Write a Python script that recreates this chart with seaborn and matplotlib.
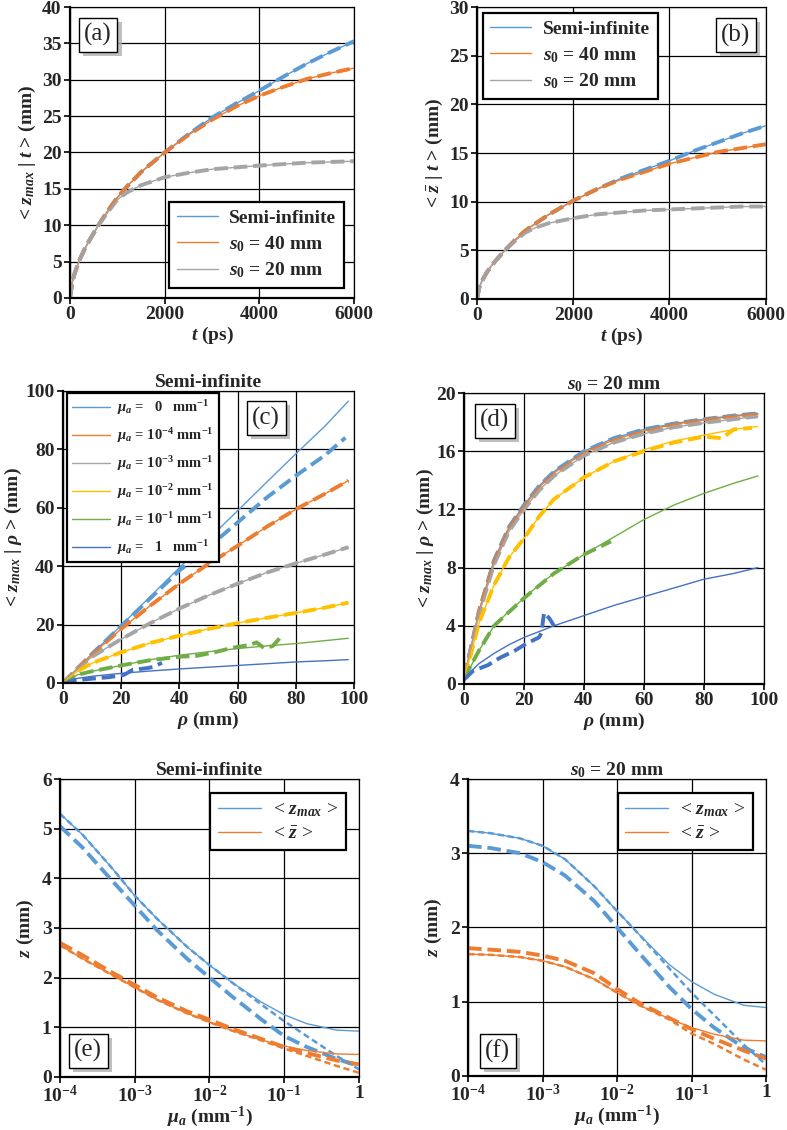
import matplotlib
matplotlib.use("Agg")
import matplotlib.pyplot as plt
import matplotlib.patheffects as pe
from matplotlib.ticker import FixedLocator, NullLocator
import seaborn as sns

# colours (Excel palette of the original figure)
C_BLUE = "#5B9BD5"
C_ORANGE = "#ED7D31"
C_GREY = "#A5A5A5"
C_YELLOW = "#FFC000"
C_GREEN = "#70AD47"
C_DBLUE = "#4472C4"

# ---- (a) / (b): depth vs time ----
t_ps = [0, 50, 100, 200, 300, 400, 600, 800, 1000, 1200, 1500, 2000, 2500,
        3000, 3500, 4000, 4500, 5000, 5500, 6000]
a_semi = [0, 2.2, 3.4, 5.2, 6.6, 7.8, 10.0, 12.0, 13.8, 15.3, 17.3, 20.0, 22.5,
          24.8, 26.7, 28.5, 30.4, 32.2, 33.8, 35.3]
a_s40 = [0, 2.2, 3.4, 5.2, 6.6, 7.8, 10.0, 12.0, 13.8, 15.3, 17.3, 20.0, 22.4,
         24.5, 26.3, 27.8, 29.0, 30.1, 30.9, 31.6]
a_s20 = [0, 2.2, 3.4, 5.2, 6.6, 7.8, 10.0, 11.8, 13.5, 14.5, 15.5, 16.6, 17.2,
         17.7, 17.95, 18.2, 18.4, 18.6, 18.7, 18.8]
b_semi = [0, 1.2, 1.8, 2.7, 3.4, 4.0, 5.1, 6.1, 7.0, 7.7, 8.7, 10.1, 11.3,
          12.4, 13.3, 14.2, 15.2, 16.1, 17.0, 17.8]
b_s40 = [0, 1.2, 1.8, 2.7, 3.4, 4.0, 5.1, 6.1, 7.0, 7.7, 8.7, 10.1, 11.3,
         12.3, 13.1, 13.9, 14.5, 15.1, 15.5, 15.9]
b_s20 = [0, 1.2, 1.8, 2.7, 3.4, 4.0, 5.1, 6.0, 6.8, 7.3, 7.8, 8.3, 8.7,
         8.9, 9.1, 9.2, 9.3, 9.4, 9.5, 9.5]

# ---- (c) semi-infinite, depth vs rho ----
rho_c = [0, 5, 10, 20, 30, 40, 50, 60, 70, 80, 90, 98]
c_mu0 = [0, 5.0, 10.0, 19.7, 29.6, 39.5, 49.3, 59.0, 68.8, 78.5, 88.0, 96.5]
c_m4 = [0, 5.0, 9.8, 18.5, 26.5, 34.0, 40.8, 47.0, 53.5, 59.5, 64.8, 69.3]
c_m3 = [0, 4.8, 9.0, 15.0, 20.5, 25.5, 30.0, 34.0, 37.8, 41.0, 44.0, 46.5]
c_m2 = [0, 4.0, 6.8, 10.5, 13.7, 16.2, 18.5, 20.5, 22.3, 24.0, 25.8, 27.5]
c_m1 = [0, 2.8, 4.0, 6.0, 8.0, 9.5, 10.7, 11.8, 12.7, 13.5, 14.5, 15.3]
c_m0 = [0, 1.6, 2.3, 3.3, 4.1, 4.8, 5.4, 6.0, 6.6, 7.2, 7.6, 8.0]
rho_c_sim0 = [0, 5, 10, 20, 30, 40, 50, 60, 70, 80, 90, 97]
c_mu0_sim = [0, 5.0, 10.0, 19.5, 29.0, 38.5, 46.5, 55.0, 63.5, 71.0, 78.0, 84.0]
rho_c_sim1 = [0, 5, 10, 20, 30, 40, 46, 52, 58, 64, 66.5, 69, 72, 74.5]
c_m1_sim = [0, 2.8, 4.0, 6.0, 7.8, 9.0, 9.3, 10.5, 12.0, 13.0, 13.9, 12.0, 12.6, 15.4]
rho_c_sim_h = [0, 8, 16, 21, 24, 29, 31, 34]
c_m0_sim = [0.5, 1.3, 2.0, 2.8, 4.5, 5.1, 5.5, 6.9]

# ---- (d) s0 = 20 mm, depth vs rho ----
rho_d = [0, 2, 5, 10, 15, 20, 25, 30, 40, 50, 60, 70, 80, 90, 98]
d_mu0 = [0.5, 2.2, 5.0, 8.5, 10.8, 12.3, 13.6, 14.6, 16.0, 16.9, 17.5, 17.9, 18.2, 18.45, 18.6]
d_m4 = [0.5, 2.2, 5.0, 8.4, 10.7, 12.2, 13.5, 14.5, 15.9, 16.8, 17.4, 17.85, 18.15, 18.4, 18.55]
d_m3 = [0.5, 2.1, 4.8, 8.2, 10.5, 12.0, 13.3, 14.3, 15.7, 16.6, 17.2, 17.65, 17.95, 18.2, 18.4]
d_m2 = [0.5, 1.8, 4.2, 6.8, 8.7, 10.0, 11.5, 12.7, 14.2, 15.3, 16.1, 16.7, 17.1, 17.5, 17.7]
d_m1 = [0.4, 1.1, 2.3, 4.0, 5.0, 5.9, 6.8, 7.6, 8.9, 10.1, 11.3, 12.3, 13.1, 13.8, 14.3]
d_m0 = [0.2, 0.8, 1.4, 2.1, 2.7, 3.2, 3.6, 4.0, 4.7, 5.4, 6.0, 6.6, 7.2, 7.6, 8.0]
rho_d_sim2 = [0, 2, 5, 10, 15, 20, 25, 30, 40, 50, 60, 70, 80, 86, 90, 96]
d_m2_sim = [0.5, 1.8, 4.2, 6.8, 8.7, 10.0, 11.5, 12.7, 14.2, 15.3, 16.0, 16.6, 17.0, 16.9, 17.5, 17.6]
rho_d_sim1 = [0, 5, 10, 20, 30, 40, 49]
d_m1_sim = [0.4, 2.3, 4.0, 5.9, 7.6, 8.9, 9.8]
rho_d_sim0 = [0, 3, 8, 12, 17, 21, 25, 25.8, 26.7, 28.5, 30]
d_m0_sim = [0.3, 0.9, 1.3, 1.8, 2.3, 2.8, 3.2, 3.5, 4.9, 4.5, 4.0]

# ---- (e) / (f): depth vs absorption ----
mu_a = [1e-4, 2e-4, 5e-4, 1e-3, 2e-3, 5e-3, 1e-2, 2e-2, 5e-2, 1e-1, 2e-1, 5e-1, 1]
e_zmax = [5.30, 4.88, 4.20, 3.65, 3.18, 2.62, 2.25, 1.90, 1.50, 1.25, 1.07, 0.94, 0.92]
e_zmax_apx = [5.30, 4.88, 4.20, 3.65, 3.18, 2.62, 2.25, 1.90, 1.45, 1.12, 0.82, 0.42, 0.15]
e_zmax_sim = [5.05, 4.62, 3.95, 3.45, 2.95, 2.38, 2.00, 1.62, 1.15, 0.82, 0.60, 0.36, 0.22]
e_zbar = [2.65, 2.38, 2.05, 1.80, 1.55, 1.28, 1.10, 0.93, 0.74, 0.62, 0.53, 0.46, 0.45]
e_zbar_apx = [2.65, 2.38, 2.05, 1.80, 1.55, 1.28, 1.10, 0.93, 0.73, 0.57, 0.42, 0.22, 0.08]
e_zbar_sim = [2.70, 2.45, 2.10, 1.85, 1.60, 1.32, 1.15, 0.97, 0.76, 0.60, 0.48, 0.33, 0.25]
f_zmax = [3.30, 3.27, 3.20, 3.10, 2.92, 2.55, 2.22, 1.90, 1.50, 1.27, 1.10, 0.95, 0.92]
f_zmax_apx = [3.30, 3.27, 3.20, 3.10, 2.92, 2.55, 2.22, 1.90, 1.45, 1.12, 0.82, 0.42, 0.15]
f_zmax_sim = [3.10, 3.07, 3.00, 2.88, 2.70, 2.35, 2.00, 1.65, 1.20, 0.90, 0.65, 0.38, 0.25]
f_zbar = [1.64, 1.63, 1.60, 1.55, 1.47, 1.30, 1.12, 0.95, 0.77, 0.65, 0.56, 0.48, 0.47]
f_zbar_apx = [1.64, 1.63, 1.60, 1.55, 1.47, 1.30, 1.12, 0.95, 0.76, 0.57, 0.43, 0.22, 0.08]
f_zbar_sim = [1.72, 1.70, 1.67, 1.62, 1.55, 1.38, 1.17, 0.98, 0.78, 0.63, 0.50, 0.34, 0.23]
mu_ticks = [1e-4, 1e-3, 1e-2, 1e-1, 1]
mu_ticklabels = ["10$^{-4}$", "10$^{-3}$", "10$^{-2}$", "10$^{-1}$", "1"]

sns.set_style("whitegrid")
plt.rcParams["font.family"] = ["Liberation Serif", "DejaVu Serif"]
plt.rcParams["font.weight"] = "bold"
plt.rcParams["axes.labelweight"] = "bold"
plt.rcParams["axes.titleweight"] = "bold"
plt.rcParams["mathtext.fontset"] = "custom"
plt.rcParams["mathtext.rm"] = "Liberation Serif:bold"
plt.rcParams["mathtext.it"] = "Liberation Serif:italic:bold"
plt.rcParams["mathtext.bf"] = "Liberation Serif:bold"

SOLID = dict(lw=1.0)
SIM = dict(lw=2.8, linestyle=(0, (3.5, 1.5)))
APX = dict(lw=1.8, linestyle=(0, (2.5, 1.5)))
LBL = 14


def line(ax, x, y, color, style, label=None):
    sns.lineplot(x=x, y=y, color=color, ax=ax, label=label, sort=False, **style)


def prep(ax, xlim, ylim, xticks, yticks):
    ax.set_xlim(*xlim); ax.set_ylim(*ylim)
    ax.xaxis.set_major_locator(FixedLocator(xticks))
    ax.yaxis.set_major_locator(FixedLocator(yticks))
    ax.grid(True, color="black", lw=0.9)
    for s in ax.spines.values():
        s.set_color("black"); s.set_linewidth(0.9)
    ax.spines["left"].set_linewidth(1.6); ax.spines["bottom"].set_linewidth(1.6)
    ax.tick_params(direction="out", length=4, width=1.2, color="black",
                   labelsize=14, pad=2, left=True, bottom=True)


def tag(ax, s, x, y):
    # panel letter in a box with a soft shadow
    t = ax.text(x, y, s, transform=ax.transAxes, ha="center", va="center", fontsize=18,
                fontweight="normal", zorder=6,
                bbox=dict(boxstyle="square,pad=0.22", fc="white", ec="black", lw=1.0))
    t.get_bbox_patch().set_path_effects(
        [pe.SimplePatchShadow(offset=(3, -3), shadow_rgbFace="#b0b0b0", alpha=0.8), pe.Normal()])


def legend(ax, fontsize, weight="bold", **kw):
    lg = ax.legend(frameon=True, fancybox=False, borderaxespad=0,
                   prop=dict(weight=weight, size=fontsize), **kw)
    lg.get_frame().set_edgecolor("black"); lg.get_frame().set_linewidth(1.6)
    lg.get_frame().set_alpha(1)
    lg.set_zorder(7)
    return lg


fig = plt.figure(figsize=(7.87, 11.3), dpi=100)
ax_a = fig.add_axes([0.0889, 0.7363, 0.361, 0.2575])
ax_b = fig.add_axes([0.606, 0.7354, 0.367, 0.2584])
ax_c = fig.add_axes([0.080, 0.3956, 0.370, 0.2584])
ax_d = fig.add_axes([0.5896, 0.3947, 0.381, 0.2575])
ax_e = fig.add_axes([0.0762, 0.0471, 0.380, 0.2635])
ax_f = fig.add_axes([0.5947, 0.0480, 0.3787, 0.2626])

ab_labels = ["Semi-infinite", "$s_0$ = 40 mm", "$s_0$ = 20 mm"]
ab_colors = [C_BLUE, C_ORANGE, C_GREY]

# (a)
for y, c in zip([a_semi, a_s40, a_s20], ab_colors):
    line(ax_a, t_ps, y, c, SIM)
for y, c, lab in zip([a_semi, a_s40, a_s20], ab_colors, ab_labels):
    line(ax_a, t_ps, y, c, SOLID, label=lab)
prep(ax_a, (0, 6000), (0, 40), [0, 2000, 4000, 6000], range(0, 41, 5))
ax_a.set_xlabel("$t$ (ps)", fontsize=LBL, labelpad=1)
ax_a.set_ylabel(r"< $z_{max}$ | $t$ > (mm)", fontsize=LBL, labelpad=3)
legend(ax_a, 14, loc="lower right", bbox_to_anchor=(0.965, 0.034),
       handlelength=2.1, labelspacing=0.35, borderpad=0.4, handletextpad=0.6)
tag(ax_a, "(a)", 0.099, 0.904)

# (b)
for y, c in zip([b_semi, b_s40, b_s20], ab_colors):
    line(ax_b, t_ps, y, c, SIM)
for y, c, lab in zip([b_semi, b_s40, b_s20], ab_colors, ab_labels):
    line(ax_b, t_ps, y, c, SOLID, label=lab)
prep(ax_b, (0, 6000), (0, 30), [0, 2000, 4000, 6000], range(0, 31, 5))
ax_b.set_xlabel("$t$ (ps)", fontsize=LBL, labelpad=1)
ax_b.set_ylabel(r"< $\bar{z}$ | $t$ > (mm)", fontsize=LBL, labelpad=3)
legend(ax_b, 14, loc="upper left", bbox_to_anchor=(0.02, 0.98),
       handlelength=2.1, labelspacing=0.35, borderpad=0.4, handletextpad=0.6)
tag(ax_b, "(b)", 0.896, 0.904)

# (c)
c_labels = [r"$\mu_a$ =   0   mm$^{-1}$", r"$\mu_a$ = 10$^{-4}$ mm$^{-1}$",
            r"$\mu_a$ = 10$^{-3}$ mm$^{-1}$", r"$\mu_a$ = 10$^{-2}$ mm$^{-1}$",
            r"$\mu_a$ = 10$^{-1}$ mm$^{-1}$", r"$\mu_a$ =   1   mm$^{-1}$"]
c_colors = [C_BLUE, C_ORANGE, C_GREY, C_YELLOW, C_GREEN, C_DBLUE]
line(ax_c, rho_c_sim0, c_mu0_sim, C_BLUE, SIM)
line(ax_c, rho_c, c_m4, C_ORANGE, SIM)
line(ax_c, rho_c, c_m3, C_GREY, SIM)
line(ax_c, rho_c, c_m2, C_YELLOW, SIM)
line(ax_c, rho_c_sim1, c_m1_sim, C_GREEN, SIM)
line(ax_c, rho_c_sim_h, c_m0_sim, C_DBLUE, SIM)
for y, c, lab in zip([c_mu0, c_m4, c_m3, c_m2, c_m1, c_m0], c_colors, c_labels):
    line(ax_c, rho_c, y, c, SOLID, label=lab)
prep(ax_c, (0, 100), (0, 100), range(0, 101, 20), range(0, 101, 20))
ax_c.set_xlabel(r"$\rho$ (mm)", fontsize=LBL, labelpad=1)
ax_c.set_ylabel(r"< $z_{max}$ | $\rho$ > (mm)", fontsize=LBL, labelpad=1)
ax_c.set_title("Semi-infinite", fontsize=14, pad=3)
legend(ax_c, 10.5, loc="upper left", bbox_to_anchor=(0.014, 0.993),
       handlelength=2.6, labelspacing=0.62, borderpad=0.35, handletextpad=0.5)
tag(ax_c, "(c)", 0.698, 0.907)

# (d)
line(ax_d, rho_d, d_mu0, C_BLUE, SIM)
line(ax_d, rho_d, d_m4, C_ORANGE, SIM)
line(ax_d, rho_d, d_m3, C_GREY, SIM)
line(ax_d, rho_d_sim2, d_m2_sim, C_YELLOW, SIM)
line(ax_d, rho_d_sim1, d_m1_sim, C_GREEN, SIM)
line(ax_d, rho_d_sim0, d_m0_sim, C_DBLUE, SIM)
for y, c in zip([d_mu0, d_m4, d_m3, d_m2, d_m1, d_m0], c_colors):
    line(ax_d, rho_d, y, c, SOLID)
prep(ax_d, (0, 100), (0, 20), range(0, 101, 20), range(0, 21, 4))
ax_d.set_xlabel(r"$\rho$ (mm)", fontsize=LBL, labelpad=1)
ax_d.set_ylabel(r"< $z_{max}$ | $\rho$ > (mm)", fontsize=LBL, labelpad=0)
ax_d.set_title("$s_0$ = 20 mm", fontsize=14, pad=3)
tag(ax_d, "(d)", 0.103, 0.904)

# (e) and (f)
for ax, zmax, zmax_apx, zmax_sim, zbar, zbar_apx, zbar_sim, ymax, title, letter, pos in [
        (ax_e, e_zmax, e_zmax_apx, e_zmax_sim, e_zbar, e_zbar_apx, e_zbar_sim, 6,
         "Semi-infinite", "(e)", (0.094, 0.087)),
        (ax_f, f_zmax, f_zmax_apx, f_zmax_sim, f_zbar, f_zbar_apx, f_zbar_sim, 4,
         "$s_0$ = 20 mm", "(f)", (0.10, 0.084))]:
    line(ax, mu_a, zmax_sim, C_BLUE, SIM)
    line(ax, mu_a, zbar_sim, C_ORANGE, SIM)
    line(ax, mu_a, zmax_apx, C_BLUE, APX)
    line(ax, mu_a, zbar_apx, C_ORANGE, APX)
    line(ax, mu_a, zmax, C_BLUE, SOLID, label="< $z_{max}$ >")
    line(ax, mu_a, zbar, C_ORANGE, SOLID, label=r"< $\bar{z}$ >")
    ax.set_xscale("log")
    prep(ax, (1e-4, 1), (0, ymax), mu_ticks, range(0, ymax + 1))
    ax.xaxis.set_minor_locator(NullLocator())
    ax.set_xticklabels(mu_ticklabels)
    ax.set_xlabel(r"$\mu_a$ (mm$^{-1}$)", fontsize=LBL, labelpad=-1)
    ax.set_ylabel("$z$ (mm)", fontsize=LBL, labelpad=4)
    ax.set_title(title, fontsize=14, pad=3)
    legend(ax, 14, weight="normal", loc="upper right", bbox_to_anchor=(0.955, 0.953),
           handlelength=2.2, labelspacing=0.3, borderpad=0.4, handletextpad=0.6)
    tag(ax, letter, *pos)

fig.savefig("out.png", dpi=100)
